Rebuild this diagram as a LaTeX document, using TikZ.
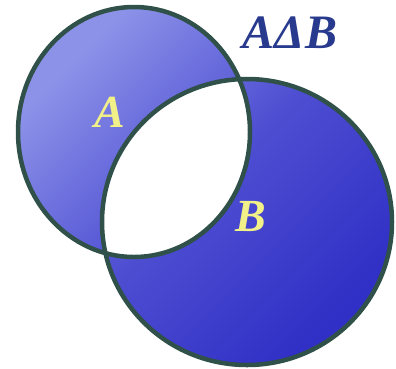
\documentclass[tikz,border=0pt]{standalone}
\usepackage{fontspec}
\setmainfont{Liberation Serif}
\definecolor{rim}{HTML}{30504A}
\definecolor{lightfill}{HTML}{8C92E8}
\definecolor{midfill}{HTML}{4E4ED2}
\definecolor{darkfill}{HTML}{3030C6}
\definecolor{titleblue}{HTML}{283A8E}
\definecolor{labelyellow}{HTML}{F2F088}
\tikzset{
  rimline/.style={draw=rim, line width=4.5pt},
  setlabel/.style={text=labelyellow, font=\fontsize{46}{46}\selectfont\bfseries\itshape, inner sep=0pt},
  titlelabel/.style={text=titleblue, font=\fontsize{48}{48}\selectfont\bfseries\itshape, inner sep=0pt}
}
\begin{document}
\begin{tikzpicture}[x=1pt,y=-1pt]
\useasboundingbox (0,0) rectangle (396,368);
% symmetric difference shading
\shade[even odd rule, top color=lightfill, bottom color=darkfill, middle color=midfill, shading angle=45]
  (134,132) ellipse [x radius=116, y radius=125]
  (247,222) ellipse [x radius=145, y radius=143];
% outlines
\draw[rimline] (134,132) ellipse [x radius=116, y radius=125];
\draw[rimline] (247,222) ellipse [x radius=145, y radius=143];
% labels
\node[setlabel] (la) at (110,112) {A};
\node[setlabel] (lb) at (251,216) {B};
\node[titlelabel] (title) at (290,33) {AΔB};
\end{tikzpicture}
\end{document}
